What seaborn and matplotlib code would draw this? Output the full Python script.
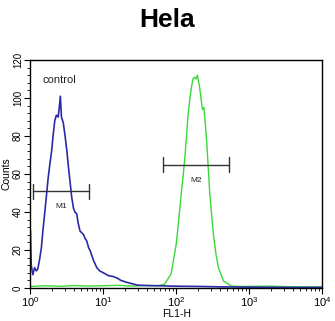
import numpy as np
import pandas as pd
import matplotlib
matplotlib.use("Agg")
import matplotlib.pyplot as plt
import seaborn as sns
from matplotlib.ticker import LogLocator, MultipleLocator

# ---- data (log10 of FL1-H, counts) ----
control_log = [0.0, 0.01, 0.032, 0.056, 0.08, 0.10, 0.125, 0.149, 0.17, 0.194, 0.22, 0.24, 0.265,
               0.29, 0.31, 0.333, 0.355, 0.38, 0.395, 0.41, 0.425, 0.45, 0.475, 0.50, 0.52,
               0.54, 0.565, 0.59, 0.61, 0.635, 0.655, 0.68, 0.705, 0.73, 0.75, 0.77, 0.80,
               0.82, 0.86, 0.91, 0.95, 1.0, 1.07, 1.14, 1.2, 1.24, 1.32, 1.40, 1.47, 1.6,
               1.75, 1.93, 2.1, 2.35, 2.6, 2.9, 3.2, 3.5, 4.0]
control_counts = [30, 12, 7, 10.7, 9, 10, 15, 21, 30, 39, 49, 57, 65,
                  72, 80, 88, 91, 90, 95, 101, 90, 87, 80, 72, 64,
                  57, 48, 42, 40, 39, 34, 30, 29, 28, 26, 25, 21,
                  19.6, 15, 10.7, 9, 8, 6.5, 6, 5, 4, 3, 2.2, 1.5, 1.3,
                  1.2, 1.0, 0.9, 0.8, 0.6, 0.5, 0.4, 0.3, 0.3]

stain_log = [0.0, 0.2, 0.4, 0.6, 0.8, 1.0, 1.2, 1.4, 1.6, 1.75, 1.84, 1.93, 2.0, 2.035,
             2.07, 2.095, 2.115, 2.14, 2.16, 2.185, 2.21, 2.23, 2.25, 2.27, 2.29, 2.32,
             2.34, 2.36, 2.38, 2.40, 2.42, 2.44, 2.46, 2.485, 2.51, 2.545, 2.58, 2.65,
             2.76, 2.9, 3.1, 3.3, 3.5, 3.7, 4.0]
stain_counts = [0.8, 1.2, 0.9, 1.3, 1.0, 1.2, 1.4, 1.0, 1.3, 1.2, 2, 7.4, 23, 36,
                50, 59, 67, 79, 90, 99, 106, 110, 111, 110, 112, 106,
                100, 94, 95, 86, 76, 63, 50, 39, 28.5, 18, 10.6, 3.7,
                1.0, 0.8, 0.9, 1.0, 0.7, 0.6, 0.6]

markers = ["M1", "M2"]
marker_lo = [1.08, 65]
marker_hi = [6.3, 535]
marker_y = [51, 65]
marker_label_y = [43, 56.5]

title = "Hela"
x_label = "FL1-H"
y_label = "Counts"
y_ticks = [0, 20, 40, 60, 80, 100, 120]

# ---- figure ----
sns.set_style("white")
plt.rcParams["font.family"] = ["Liberation Sans", "DejaVu Sans"]
plt.rcParams["mathtext.fontset"] = "custom"
plt.rcParams["mathtext.rm"] = "Liberation Sans"
plt.rcParams["mathtext.it"] = "Liberation Sans"
plt.rcParams["text.color"] = "black"
plt.rcParams["axes.labelcolor"] = "black"

fig = plt.figure(figsize=(3.35, 3.21), dpi=100)
ax = fig.add_axes([0.091, 0.1028, 0.870, 0.710])

df_c = pd.DataFrame({"x": 10 ** np.array(control_log), "y": control_counts})
df_s = pd.DataFrame({"x": 10 ** np.array(stain_log), "y": stain_counts})
sns.lineplot(data=df_s, x="x", y="y", ax=ax, color="#3ad83a", lw=1.0, estimator=None, sort=False)
sns.lineplot(data=df_c, x="x", y="y", ax=ax, color="#2a2aa8", lw=1.2, estimator=None, sort=False)

ax.set_xscale("log")
ax.set_xlim(1, 1e4)
ax.set_ylim(0, 120)
ax.set_yticks(y_ticks)
ax.yaxis.set_minor_locator(MultipleLocator(4))
ax.xaxis.set_major_locator(LogLocator(base=10, numticks=10))
ax.xaxis.set_minor_locator(LogLocator(base=10, subs=np.arange(2, 10), numticks=20))

for s in ax.spines.values():
    s.set_color("black")
    s.set_linewidth(1.0)

ax.tick_params(axis="both", which="major", direction="out", length=4, width=0.8,
               colors="black", labelsize=7, pad=1.5, bottom=True, left=True)
ax.tick_params(axis="both", which="minor", direction="out", length=2, width=0.6,
               colors="black", bottom=True, left=True)
ax.tick_params(axis="x", which="major", labelsize=8)
for lab in ax.get_yticklabels():
    lab.set_rotation(90)
    lab.set_va("center")

ax.set_xlabel(x_label, fontsize=7.5, labelpad=0, color="black")
ax.set_ylabel(y_label, fontsize=7.5, labelpad=1, color="black")

for name, lo, hi, yv, ly in zip(markers, marker_lo, marker_hi, marker_y, marker_label_y):
    ax.plot([lo, hi], [yv, yv], color="#333333", lw=1.0)
    ax.plot([lo, lo], [yv - 4, yv + 4], color="#333333", lw=1.0)
    ax.plot([hi, hi], [yv - 4, yv + 4], color="#333333", lw=1.0)
    ax.text(np.sqrt(lo * hi), ly, name, fontsize=6, ha="center", va="center", color="#222222")

ax.text(1.47, 109.5, "control", fontsize=8, ha="left", va="center", color="#222222")

fig.text(0.5, 0.938, title, fontsize=19, fontweight="bold", ha="center", va="center", color="black")

fig.savefig("out.png", dpi=100)
